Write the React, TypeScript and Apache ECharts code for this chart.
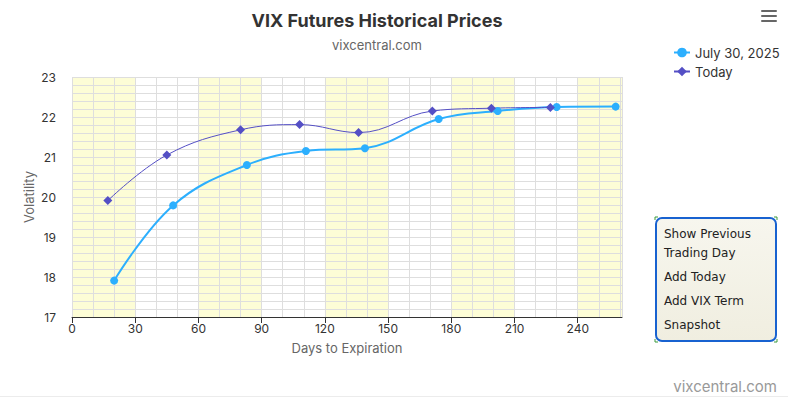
import React, { useEffect, useRef } from "react";
import * as echarts from "echarts";

const julyDays = [20, 48, 83, 111, 139, 174, 202, 230, 258];
const julyValues = [17.91, 19.79, 20.8, 21.15, 21.22, 21.95, 22.15, 22.25, 22.26];
const todayDays = [17, 45, 80, 108, 136, 171, 199, 227];
const todayValues = [19.91, 21.05, 21.68, 21.81, 21.61, 22.15, 22.22, 22.24];
const bands: [number, number][] = [[0, 30], [60, 90], [120, 150], [180, 210], [240, 261]];
const seriesNames = ["July 30, 2025", "Today"];
const buttonLines = ["Show Previous", "Trading Day", "Add Today", "Add VIX Term", "Snapshot"];
const buttonLineY = [234, 252.5, 276.5, 300.5, 324.5];

const FONT = "Inter, 'Noto Sans', sans-serif";

export default function App() {
  const ref = useRef<HTMLDivElement>(null);
  useEffect(() => {
    if (!ref.current) return;
    const chart = echarts.init(ref.current, null, { renderer: "svg" });
    const gridColor = "#dedede";
    chart.setOption({
      animation: false,
      backgroundColor: "#ffffff",
      textStyle: { fontFamily: FONT },
      title: [
        {
          text: "VIX Futures Historical Prices",
          left: 372,
          top: 6,
          textAlign: "center",
          textStyle: { fontSize: 18, fontWeight: "bold", color: "#333333", fontFamily: FONT },
        },
        {
          text: "vixcentral.com",
          left: 372,
          top: 33,
          textAlign: "center",
          textStyle: { fontSize: 13, fontWeight: "normal", color: "#666666", fontFamily: FONT },
        },
        {
          text: "vixcentral.com",
          right: 6,
          top: 374,
          textStyle: { fontSize: 15, fontWeight: "normal", color: "#999999", fontFamily: FONT },
        },
      ],
      legend: {
        data: seriesNames,
        orient: "vertical",
        left: 668,
        top: 41,
        itemWidth: 16,
        itemHeight: 12,
        itemGap: 6,
        textStyle: { fontSize: 13, color: "#333333", fontFamily: FONT },
      },
      grid: { left: 72, right: 166, top: 77, bottom: 81 },
      xAxis: {
        type: "value",
        min: 0,
        max: 261,
        interval: 30,
        name: "Days to Expiration",
        nameLocation: "middle",
        nameGap: 24,
        nameMoveOverlap: false,
        nameTextStyle: { fontSize: 13, color: "#666666", fontFamily: FONT },
        axisLine: { show: true, lineStyle: { color: "#333333", width: 1 } },
        axisTick: { show: true, length: 6, lineStyle: { color: "#333333" } },
        axisLabel: { fontSize: 12, color: "#333333", margin: 5, showMaxLabel: false, fontFamily: FONT },
        splitLine: { show: true, lineStyle: { color: gridColor, width: 1 } },
        minorTick: { show: false, splitNumber: 3 },
        minorSplitLine: { show: true, lineStyle: { color: gridColor, width: 1 } },
      },
      yAxis: {
        type: "value",
        min: 17,
        max: 23,
        interval: 1,
        name: "Volatility",
        nameLocation: "middle",
        nameGap: 37,
        nameMoveOverlap: false,
        nameTextStyle: { fontSize: 13, color: "#666666", fontFamily: FONT },
        axisLine: { show: false },
        axisTick: { show: false },
        axisLabel: { fontSize: 12, color: "#333333", margin: 16, fontFamily: FONT },
        splitLine: { show: true, lineStyle: { color: gridColor, width: 1 } },
        minorTick: { show: false, splitNumber: 5 },
        minorSplitLine: { show: true, lineStyle: { color: gridColor, width: 1 } },
      },
      series: [
        {
          name: "bands",
          type: "line",
          data: [],
          z: -1,
          silent: true,
          markArea: {
            silent: true,
            z: -1,
            itemStyle: { color: "#fdfdd6" },
            data: bands.map(([a, b]) => [{ xAxis: a }, { xAxis: b }]),
          },
        },
        {
          name: seriesNames[0],
          type: "line",
          smooth: 0.4,
          symbol: "circle",
          symbolSize: 8,
          color: "#2caffe",
          lineStyle: { width: 2, color: "#2caffe" },
          itemStyle: { color: "#2caffe" },
          data: julyDays.map((d, i) => [d, julyValues[i]]),
        },
        {
          name: seriesNames[1],
          type: "line",
          smooth: 0.4,
          symbol: "diamond",
          symbolSize: 9,
          color: "#544fc5",
          lineStyle: { width: 1, color: "#544fc5" },
          itemStyle: { color: "#544fc5" },
          data: todayDays.map((d, i) => [d, todayValues[i]]),
        },
      ],
      graphic: [
        ...[10, 15, 20].map((y) => ({
          type: "rect",
          shape: { x: 761, y, width: 16, height: 2, r: 1 },
          style: { fill: "#666666" },
          silent: true,
        })),
        {
          type: "rect",
          shape: { x: 656, y: 218, width: 120, height: 123, r: 6 },
          style: {
            fill: new echarts.graphic.LinearGradient(0, 0, 0, 1, [
              { offset: 0, color: "#f7f6ee" },
              { offset: 1, color: "#f0eee0" },
            ]),
            stroke: "#1862d0",
            lineWidth: 2,
          },
          silent: true,
        },
        ...buttonLines.map((t, i) => ({
          type: "text",
          x: 664,
          y: buttonLineY[i],
          style: {
            text: t,
            fontSize: 12,
            fontFamily: "'DejaVu Sans', sans-serif",
            fill: "#222222",
            verticalAlign: "middle",
            align: "left",
          },
          silent: true,
        })),
        ...[
          [[655, 220], [655, 217], [658, 217]],
          [[774, 217], [777, 217], [777, 220]],
          [[655, 339], [655, 342], [658, 342]],
          [[774, 342], [777, 342], [777, 339]],
        ].map((pts) => ({
          type: "polyline",
          shape: { points: pts },
          style: { stroke: "#3a9a3a", lineWidth: 1, fill: "none" },
          silent: true,
        })),
        {
          type: "line",
          shape: { x1: 0, y1: 396.5, x2: 788, y2: 396.5 },
          style: { stroke: "#ececec", lineWidth: 1 },
          silent: true,
        },
      ],
    });
    return () => chart.dispose();
  }, []);
  return (
    <div
      ref={ref}
      style={{ position: "fixed", left: 0, top: 0, width: 788, height: 398 }}
    />
  );
}
